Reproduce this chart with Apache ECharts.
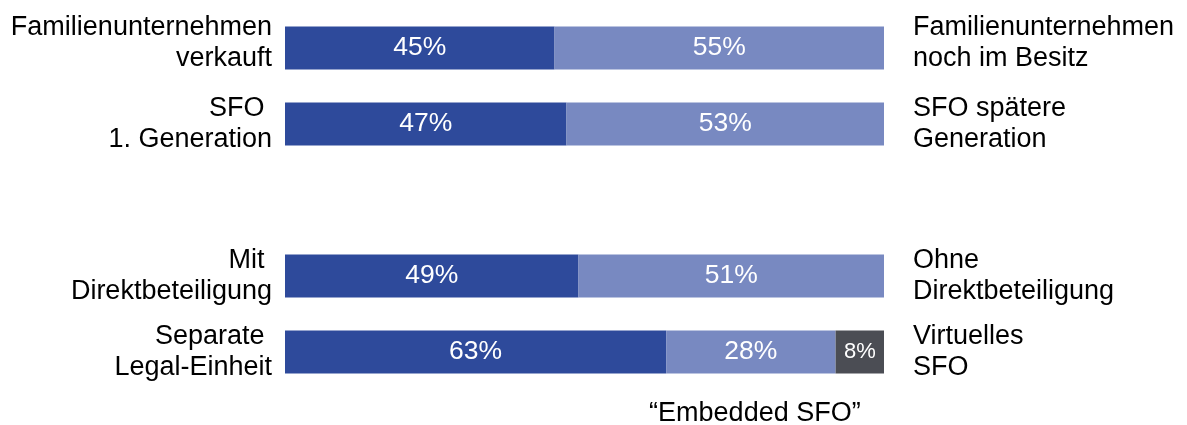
<!DOCTYPE html>
<html>
<head>
<meta charset="utf-8">
<script src="https://cdn.jsdelivr.net/npm/echarts@6/dist/echarts.min.js"></script>
<style>
html,body{margin:0;padding:0;background:#fff;}
#c{width:1187px;height:425px;}
</style>
</head>
<body>
<div id="c"></div>
<script>
// Row labels (empty middle slot is the gap between the two groups)
const leftLabels = ['Familienunternehmen\nverkauft', 'SFO \n1. Generation', '', 'Mit \nDirektbeteiligung', 'Separate \nLegal-Einheit'];
const rightLabels = ['Familienunternehmen\nnoch im Besitz', 'SFO spätere\nGeneration', '', 'Ohne\nDirektbeteiligung', 'Virtuelles\nSFO'];
// Values (percent)
const darkValues = [45, 47, null, 49, 63];
const lightValues = [55, 53, null, 51, 28];
const greyValues = [null, null, null, null, 8];
const annotationText = '\u201CEmbedded SFO\u201D';

const totals = leftLabels.map((_, i) => (darkValues[i] || 0) + (lightValues[i] || 0) + (greyValues[i] || 0));
const share = arr => arr.map((v, i) => v == null ? null : v / totals[i] * 100);
const raw = [darkValues, lightValues, greyValues];

const font = 'Liberation Sans, Arial, sans-serif';
const chart = echarts.init(document.getElementById('c'));

// first row's side labels sit slightly higher in the original: add a short spacer line
const sideFormatter = (v, i) => i === 0 ? v + '\n{s| }' : v;
const sideRich = { s: { lineHeight: 10, fontSize: 1 } };

function seriesFor(idx, values, color, fs) {
  return {
    type: 'bar', stack: 'a', barWidth: 43, yAxisIndex: 0,
    data: share(values),
    itemStyle: { color: color },
    label: {
      show: true, position: 'inside', color: '#fff', fontSize: fs, fontFamily: font,
      formatter: p => raw[idx][p.dataIndex] == null ? '' : raw[idx][p.dataIndex] + '%'
    },
    emphasis: { disabled: true },
    silent: true
  };
}

chart.setOption({
  animation: false,
  grid: { left: 285, right: 303, top: 10, bottom: 35, containLabel: false },
  xAxis: { type: 'value', min: 0, max: 100, show: false },
  yAxis: [
    {
      type: 'category', data: leftLabels, inverse: true, position: 'left',
      axisLine: { show: false }, axisTick: { show: false }, splitLine: { show: false },
      axisLabel: { margin: 13, fontSize: 27, lineHeight: 31, color: '#000', fontFamily: font, align: 'right',
        formatter: sideFormatter, rich: sideRich }
    },
    {
      type: 'category', data: rightLabels, inverse: true, position: 'right',
      axisLine: { show: false }, axisTick: { show: false }, splitLine: { show: false },
      axisLabel: { margin: 29, fontSize: 27, lineHeight: 31, color: '#000', fontFamily: font, align: 'left',
        formatter: sideFormatter, rich: sideRich }
    }
  ],
  series: [
    seriesFor(0, darkValues, '#2E4A9B', 26.5),
    seriesFor(1, lightValues, '#7889C1', 26.5),
    seriesFor(2, greyValues, '#4B4D54', 22)
  ]
});

// Annotation under the middle segment of the last row
const lastRow = leftLabels.length - 1;
const segStart = darkValues[lastRow] / totals[lastRow] * 100;
const segEnd = (darkValues[lastRow] + lightValues[lastRow]) / totals[lastRow] * 100;
const p1 = chart.convertToPixel({ gridIndex: 0 }, [segStart, lastRow]);
const p2 = chart.convertToPixel({ gridIndex: 0 }, [segEnd, lastRow]);
chart.setOption({
  graphic: [{
    type: 'text', x: (p1[0] + p2[0]) / 2 + 4, y: p1[1] + 62,
    style: { text: annotationText, font: '27px ' + font, fill: '#000', align: 'center', verticalAlign: 'middle' }
  }]
});
</script>
</body>
</html>
